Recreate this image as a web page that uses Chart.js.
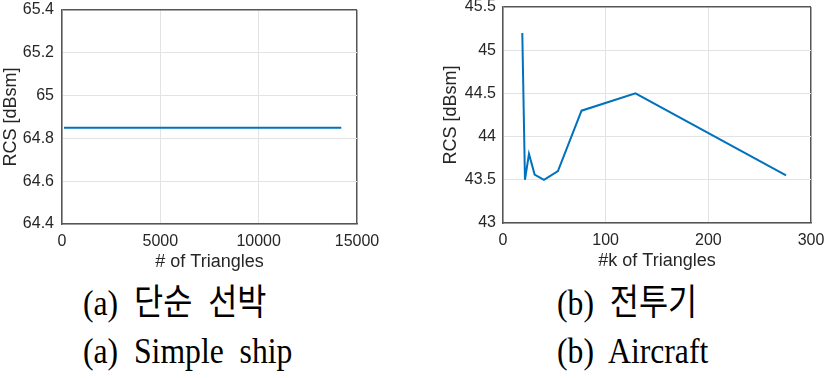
<!DOCTYPE html>
<html>
<head>
<meta charset="utf-8">
<script src="https://cdn.jsdelivr.net/npm/chart.js@4/dist/chart.umd.min.js"></script>
<style>
  html, body { margin:0; padding:0; background:#fff; }
  body { width:827px; height:378px; position:relative; overflow:hidden; }
  .cv { position:absolute; top:0; }
  .cap { position:absolute; font-family:"Liberation Serif","Noto Sans CJK KR",serif; font-size:36px; color:#000; white-space:pre; line-height:1; transform-origin:left top; transform:scaleX(0.88); }
</style>
</head>
<body>
<div class="cv" style="left:0;width:400px;height:280px;"><canvas id="c1" width="400" height="280"></canvas></div>
<div class="cv" style="left:420px;width:407px;height:280px;"><canvas id="c2" width="407" height="280"></canvas></div>
<div class="cap" id="t1" style="left:83px;top:285px;">(a)  단순  선박</div>
<div class="cap" id="t2" style="left:83px;top:333px;">(a)  Simple  ship</div>
<div class="cap" id="t3" style="left:557px;top:285px;">(b)  전투기</div>
<div class="cap" id="t4" style="left:557px;top:333px;">(b)  Aircraft</div>
<script>
// ---- data ----
const shipTriangles = [100, 2000, 5000, 8000, 11000, 14200];
const shipRCS = [64.85, 64.85, 64.85, 64.85, 64.85, 64.85];
const aircraftKTriangles = [18.8, 21.4, 25.3, 30.8, 39.9, 53.5, 76.5, 129, 275.7];
const aircraftRCS = [45.2, 43.5, 43.8, 43.56, 43.5, 43.6, 44.3, 44.5, 43.55];
const shipXTicks = [0, 5000, 10000, 15000];
const shipYTicks = [64.4, 64.6, 64.8, 65, 65.2, 65.4];
const airXTicks = [0, 100, 200, 300];
const airYTicks = [43, 43.5, 44, 44.5, 45, 45.5];

const TXT = '#262626';
const AXIS = '#555555';
const GRID = '#e3e3e3';
const BLUE = '#0072BD';
const tickFont = { family: 'Liberation Sans, Arial, sans-serif', size: 16 };
const titleFont = { family: 'Liberation Sans, Arial, sans-serif', size: 18 };

function zeroPad(s) { s.paddingTop = 0; s.paddingBottom = 0; s.paddingLeft = 0; s.paddingRight = 0; }

function makeChart(id, xs, ys, xTicks, yTicks, xTitle, yW, xH, yTitlePad, xTitlePad, yTickPad, pad) {
  const pts = xs.map((x, i) => ({ x: x, y: ys[i] }));
  const xMin = xTicks[0], xMax = xTicks[xTicks.length - 1];
  const yMin = yTicks[0], yMax = yTicks[yTicks.length - 1];
  return new Chart(document.getElementById(id), {
    type: 'scatter',
    data: { datasets: [{ data: pts, showLine: true, borderColor: BLUE, borderWidth: 2, pointRadius: 0, fill: false, tension: 0 }] },
    options: {
      responsive: false, animation: false,
      layout: { padding: pad },
      plugins: { legend: { display: false }, tooltip: { enabled: false } },
      scales: {
        x: {
          type: 'linear', min: xMin, max: xMax,
          afterBuildTicks: s => { s.ticks = xTicks.map(v => ({ value: v })); },
          afterFit: s => { s.height = xH; zeroPad(s); },
          ticks: { color: TXT, font: tickFont, padding: 8, maxRotation: 0, callback: v => String(v) },
          grid: { drawTicks: false, color: c => (c.tick && c.tick.value === xMax) ? AXIS : GRID, lineWidth: c => (c.tick && c.tick.value === xMax) ? 1.5 : 1 },
          border: { color: AXIS, width: 1.5 },
          title: { display: true, text: xTitle, color: TXT, font: titleFont, padding: { top: 0, bottom: xTitlePad } }
        },
        y: {
          type: 'linear', min: yMin, max: yMax,
          afterBuildTicks: s => { s.ticks = yTicks.map(v => ({ value: v })); },
          afterFit: s => { s.width = yW; zeroPad(s); },
          ticks: { color: TXT, font: tickFont, padding: yTickPad, callback: v => String(v) },
          grid: { drawTicks: false, color: c => (c.tick && c.tick.value === yMax) ? AXIS : GRID, lineWidth: c => (c.tick && c.tick.value === yMax) ? 1.5 : 1 },
          border: { color: AXIS, width: 1.5 },
          title: { display: true, text: 'RCS [dBsm]', color: TXT, font: titleFont, padding: { top: yTitlePad, bottom: 0 } }
        }
      }
    }
  });
}

makeChart('c1', shipTriangles, shipRCS, shipXTicks, shipYTicks, '# of Triangles', 62, 56, 0, 7, 8, { left: 0, right: 43, top: 10, bottom: 0 });
makeChart('c2', aircraftKTriangles, aircraftRCS, airXTicks, airYTicks, '#k of Triangles', 83, 57, 20, 8, 7, { left: 0, right: 16, top: 7, bottom: 0 });
</script>
</body>
</html>
